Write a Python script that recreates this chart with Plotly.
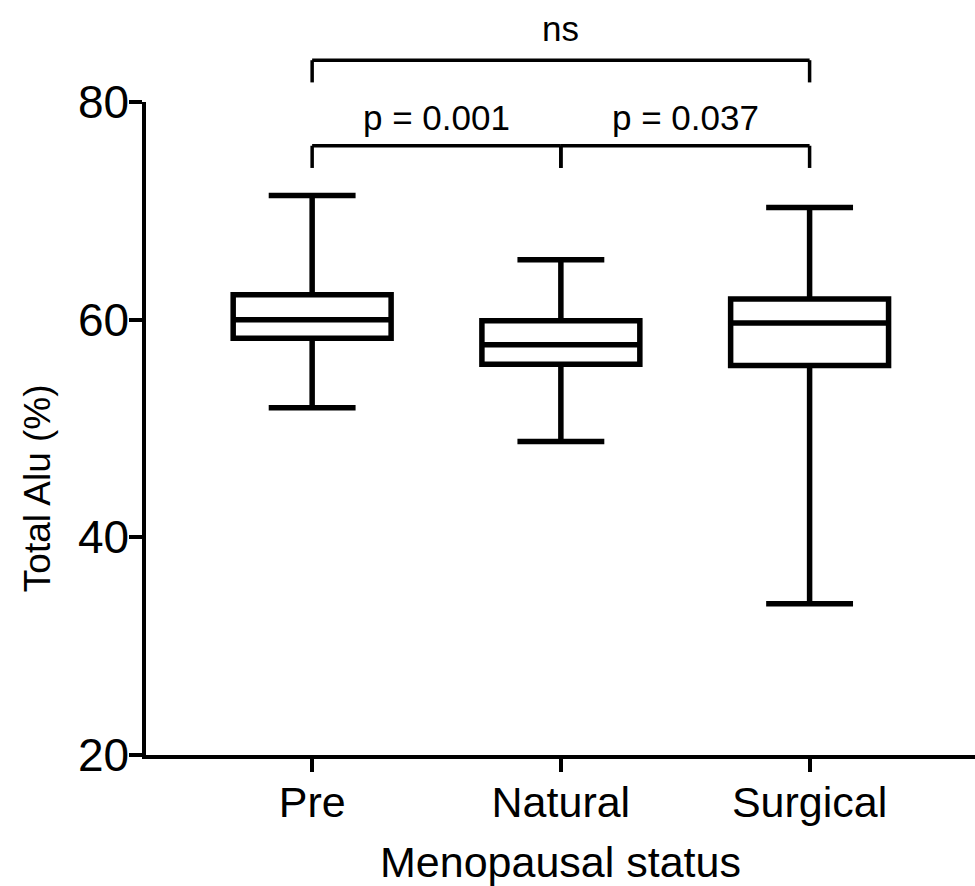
import plotly.graph_objects as go

categories = ["Pre", "Natural", "Surgical"]
lower_whisker = [51.9, 48.8, 33.9]
q1_values = [58.3, 55.9, 55.8]
medians = [60.0, 57.7, 59.7]
q3_values = [62.3, 59.9, 61.9]
upper_whisker = [71.4, 65.5, 70.3]

y_ticks = [20, 40, 60, 80]
comparisons = [  # (from index, to index, label, level)
    (0, 1, "p = 0.001", "low"),
    (1, 2, "p = 0.037", "low"),
    (0, 2, "ns", "high"),
]

X_RANGE = [-0.668, 2.665]
FONT = "Liberation Sans, Arial, sans-serif"

fig = go.Figure()
fig.add_trace(go.Box(
    x=categories,
    lowerfence=lower_whisker,
    q1=q1_values,
    median=medians,
    q3=q3_values,
    upperfence=upper_whisker,
    fillcolor="white",
    line=dict(color="black", width=5.5),
    width=0.635,
    whiskerwidth=0.55,
    boxpoints=False,
    showlegend=False,
    hoverinfo="skip",
))


def px(i):
    return (i - X_RANGE[0]) / (X_RANGE[1] - X_RANGE[0])


levels = {"low": (0.933, 0.899, 0.9755), "high": (1.064, 1.030, 1.113)}
shapes = []
annotations = []
for a, b, label, lvl in comparisons:
    yh, yd, yt = levels[lvl]
    xa, xb = px(a), px(b)
    line = dict(color="black", width=3.5)
    shapes.append(dict(type="line", xref="paper", yref="paper", x0=xa, x1=xb, y0=yh, y1=yh, line=line))
    shapes.append(dict(type="line", xref="paper", yref="paper", x0=xa, x1=xa, y0=yh, y1=yd, line=line))
    shapes.append(dict(type="line", xref="paper", yref="paper", x0=xb, x1=xb, y0=yh, y1=yd, line=line))
    annotations.append(dict(text=label, xref="paper", yref="paper", x=(xa + xb) / 2, y=yt,
                            showarrow=False, xanchor="center", yanchor="middle",
                            font=dict(size=35, color="black", family=FONT)))

# axis titles
annotations.append(dict(text="Menopausal status", xref="paper", yref="paper", x=0.5, y=-0.164,
                        showarrow=False, xanchor="center", yanchor="middle",
                        font=dict(size=43, color="black", family=FONT)))
annotations.append(dict(text="Total Alu (%)", xref="paper", yref="paper", x=-0.13, y=0.409,
                        showarrow=False, xanchor="center", yanchor="middle", textangle=-90,
                        font=dict(size=37, color="black", family=FONT)))

fig.update_layout(
    width=975, height=886,
    margin=dict(l=146, r=0, t=102, b=131),
    paper_bgcolor="white", plot_bgcolor="white",
    font=dict(family=FONT, color="black"),
    shapes=shapes,
    annotations=annotations,
    xaxis=dict(
        type="category", range=X_RANGE,
        showline=True, linecolor="black", linewidth=3.5,
        ticks="outside", ticklen=13, tickwidth=3.5, tickcolor="black",
        tickfont=dict(size=43, family=FONT, color="black"),
        ticklabelstandoff=-6,
        showgrid=False, zeroline=False,
    ),
    yaxis=dict(
        range=[20, 80], tickvals=y_ticks,
        showline=True, linecolor="black", linewidth=3.5,
        ticks="outside", ticklen=13, tickwidth=3.5, tickcolor="black",
        tickfont=dict(size=46, family=FONT, color="black"),
        ticklabelstandoff=-9,
        showgrid=False, zeroline=False,
    ),
)

fig.write_html("out.html")
